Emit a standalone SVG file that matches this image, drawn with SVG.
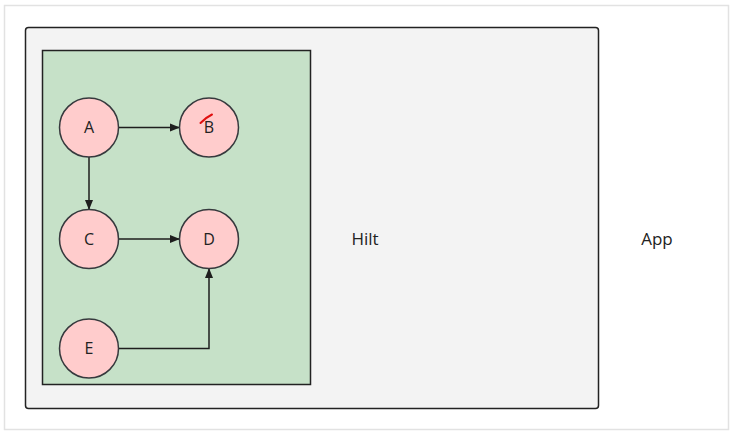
<svg xmlns="http://www.w3.org/2000/svg" width="734" height="437" viewBox="0 0 734 437">
<style>
.lbl{font-family:"Segoe UI","Open Sans","Liberation Sans",sans-serif;font-size:17px;fill:#222;}
.node circle{fill:#ffcccc;stroke:#36393d;stroke-width:1.5;}
.node text{font-family:"Segoe UI","Open Sans","Liberation Sans",sans-serif;font-size:16px;fill:#222;text-anchor:middle;}
.edge{fill:none;stroke:#1e1e1e;stroke-width:1.5;}
</style>
<defs>
<marker id="arr" markerWidth="10" markerHeight="10" refX="9" refY="5" orient="auto" markerUnits="userSpaceOnUse">
<path d="M0,1 L10,5 L0,9 Z" fill="#1e1e1e"/>
</marker>
</defs>
<rect width="734" height="437" fill="#ffffff"/>
<rect x="4.5" y="5.5" width="724" height="424" fill="#ffffff" stroke="#e2e2e2" stroke-width="1.5"/>
<g id="app">
<rect x="25.5" y="27.5" width="573" height="381" rx="3" fill="#f3f3f3" stroke="#222" stroke-width="1.5"/>
<text class="lbl" x="657" y="245" text-anchor="middle">App</text>
</g>
<g id="hilt">
<rect x="42.5" y="50.5" width="268" height="334" fill="#c6e1c8" stroke="#222" stroke-width="1.5"/>
<text class="lbl" x="365" y="245" text-anchor="middle">Hilt</text>
</g>
<g id="connectors">
<line class="edge" x1="118" y1="127.5" x2="179" y2="127.5" marker-end="url(#arr)"/>
<line class="edge" x1="89" y1="157" x2="89" y2="209" marker-end="url(#arr)"/>
<line class="edge" x1="118" y1="239" x2="179" y2="239" marker-end="url(#arr)"/>
<polyline class="edge" points="118,348.5 209,348.5 209,269" marker-end="url(#arr)"/>
</g>
<g id="A" class="node"><circle cx="89" cy="127.5" r="29.5"/><text x="89" y="133">A</text></g>
<g id="B" class="node"><circle cx="209" cy="127.5" r="29.5"/><text x="209" y="133">B</text></g>
<g id="C" class="node"><circle cx="89" cy="239" r="29.5"/><text x="89" y="244.5">C</text></g>
<g id="D" class="node"><circle cx="209" cy="239" r="29.5"/><text x="209" y="244.5">D</text></g>
<g id="E" class="node"><circle cx="89" cy="348.5" r="29.5"/><text x="89" y="354">E</text></g>
<path d="M200.5,123 Q205,118 212,114.5" fill="none" stroke="#e01010" stroke-width="2" stroke-linecap="round"/>
</svg>
